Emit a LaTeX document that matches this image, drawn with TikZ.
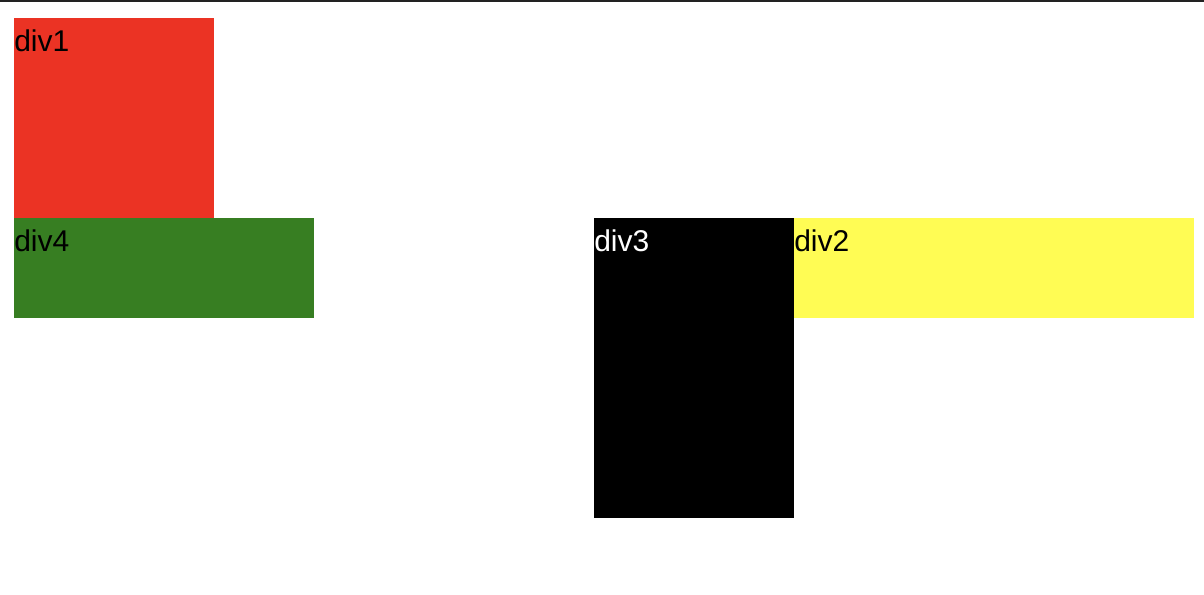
\documentclass[tikz,border=0pt]{standalone}
\usepackage{fontspec}
\setmainfont{Liberation Sans}
\definecolor{divred}{RGB}{235,51,36}
\definecolor{divgreen}{RGB}{55,126,34}
\definecolor{divyellow}{RGB}{255,252,84}
\definecolor{topgray}{RGB}{34,34,34}

\begin{document}
\begin{tikzpicture}[x=0.75pt,y=-0.75pt,
    divbox/.style={anchor=north west,inner sep=0pt,outer sep=0pt},
    divlabel/.style={anchor=base west,inner sep=0pt,font=\fontsize{22.5}{27}\selectfont}]
    \useasboundingbox (0,0) rectangle (1204,594);
    \fill [topgray] (0,0) rectangle (1204,2);
    \node at (14,18) [divbox,fill=divred,minimum width=150pt,minimum height=150pt] (div1) {};
    \node at (14,218) [divbox,fill=divgreen,minimum width=225pt,minimum height=75pt] (div4) {};
    \node at (594,218) [divbox,fill=black,minimum width=150pt,minimum height=225pt] (div3) {};
    \node at (794,218) [divbox,fill=divyellow,minimum width=300pt,minimum height=75pt] (div2) {};
    \node at ([yshift=-25pt]div1.north west) [divlabel] (div1text) {div1};
    \node at ([yshift=-25pt]div4.north west) [divlabel] (div4text) {div4};
    \node at ([yshift=-25pt]div3.north west) [divlabel,text=white] (div3text) {div3};
    \node at ([yshift=-25pt]div2.north west) [divlabel] (div2text) {div2};
  \end{tikzpicture}
\end{document}
